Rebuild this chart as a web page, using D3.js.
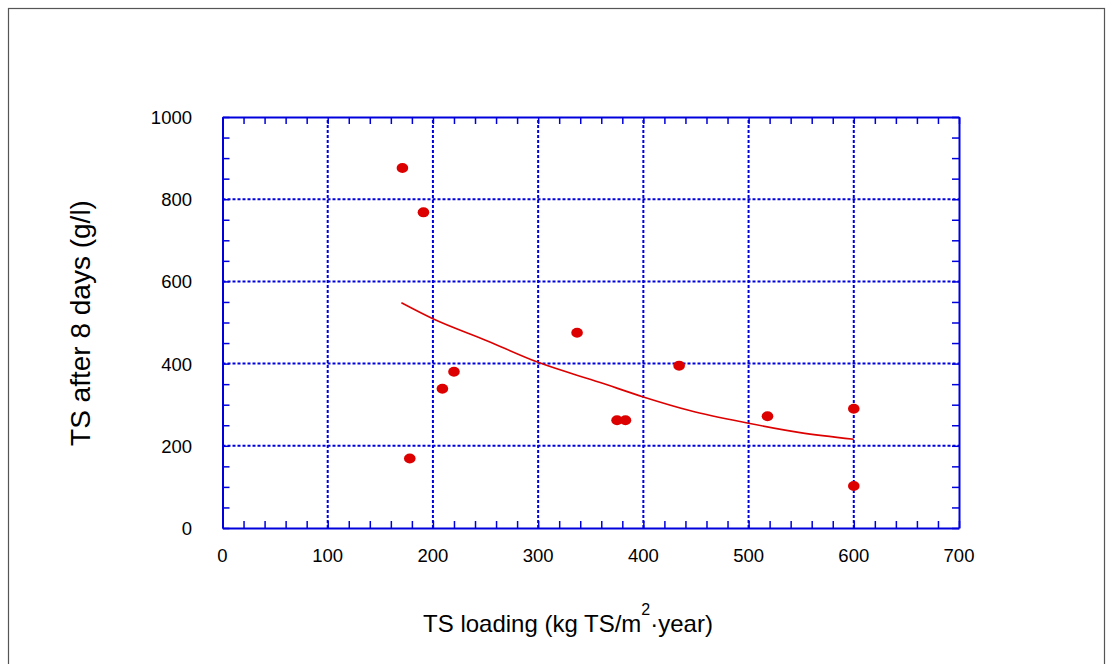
<!DOCTYPE html>
<html>
<head>
<meta charset="utf-8">
<script src="https://cdn.jsdelivr.net/npm/d3@7"></script>
<style>
  body { margin: 0; background: #fff; }
  text { font-family: "Liberation Sans", Arial, sans-serif; fill: #000; }
</style>
</head>
<body>
<svg id="chart" width="1113" height="664"></svg>
<script>
// measured points
var loading = [171, 191, 178, 209, 220, 337, 375, 383, 434, 518, 600, 600];
var tsAfter = [876, 768, 169, 339, 380, 475, 262, 262, 395, 272, 290, 102];

// fitted curve
var fitX = [170, 200, 250, 300, 359, 400, 444, 500, 549, 600];
var fitY = [548, 509, 457, 403, 354, 319, 286, 255, 232, 216];

var xTicks = [0, 100, 200, 300, 400, 500, 600, 700];
var yTicks = [0, 200, 400, 600, 800, 1000];

var svg = d3.select('#chart');
var blue = '#0000dd', red = '#dd0000';

var MARGIN = {left: 222.5, right: 959, top: 117, bottom: 528};

var x = d3.scaleLinear().domain([0, 700]).range([MARGIN.left, MARGIN.right]);
var y = d3.scaleLinear().domain([0, 1000]).range([MARGIN.bottom, MARGIN.top]);

// outer frame
svg.append('rect')
  .attr('x', 8.5).attr('y', 8.5)
  .attr('width', 1096).attr('height', 700)
  .attr('fill', 'none')
  .attr('stroke', '#555')
  .attr('stroke-width', 1.2);

// grid
var grid = svg.append('g');
grid.selectAll('.gx')
  .data(xTicks.slice(1, -1))
  .enter().append('line')
  .attr('x1', function(d) { return x(d); })
  .attr('x2', function(d) { return x(d); })
  .attr('y1', y(0)).attr('y2', y(1000))
  .attr('stroke', blue).attr('stroke-width', 2)
  .attr('stroke-dasharray', '3,2');
grid.selectAll('.gy')
  .data(yTicks.slice(1, -1))
  .enter().append('line')
  .attr('y1', function(d) { return y(d); })
  .attr('y2', function(d) { return y(d); })
  .attr('x1', x(0)).attr('x2', x(700))
  .attr('stroke', blue).attr('stroke-width', 2)
  .attr('stroke-dasharray', '3,2');

// axes with inward ticks on all four sides
function styleAxis(g) {
  g.select('.domain').attr('stroke', blue).attr('stroke-width', 2);
  g.selectAll('.tick line').attr('stroke', blue).attr('stroke-width', 1.5);
  g.selectAll('text').remove();
}
var xMinor = d3.range(0, 701, 20);
var yMinor = d3.range(0, 1001, 50);

svg.append('g')
  .attr('transform', 'translate(0,' + y(0) + ')')
  .call(d3.axisBottom(x).tickValues(xMinor).tickSizeInner(-7).tickSizeOuter(0))
  .call(styleAxis);
svg.append('g')
  .attr('transform', 'translate(0,' + y(1000) + ')')
  .call(d3.axisTop(x).tickValues(xMinor).tickSizeInner(-7).tickSizeOuter(0))
  .call(styleAxis);
svg.append('g')
  .attr('transform', 'translate(' + x(0) + ',0)')
  .call(d3.axisLeft(y).tickValues(yMinor).tickSizeInner(-7).tickSizeOuter(0))
  .call(styleAxis);
svg.append('g')
  .attr('transform', 'translate(' + x(700) + ',0)')
  .call(d3.axisRight(y).tickValues(yMinor).tickSizeInner(-7).tickSizeOuter(0))
  .call(styleAxis);

// tick labels
svg.selectAll('.xl')
  .data(xTicks)
  .enter().append('text')
  .attr('x', function(d) { return x(d); })
  .attr('y', 562)
  .attr('text-anchor', 'middle')
  .attr('font-size', 18.5)
  .text(function(d) { return d; });
svg.selectAll('.yl')
  .data(yTicks)
  .enter().append('text')
  .attr('x', 192)
  .attr('y', function(d) { return y(d) + 7; })
  .attr('text-anchor', 'end')
  .attr('font-size', 18.5)
  .text(function(d) { return d; });

// fitted line
var line = d3.line()
  .x(function(d) { return x(d[0]); })
  .y(function(d) { return y(d[1]); })
  .curve(d3.curveMonotoneX);
svg.append('path')
  .datum(d3.zip(fitX, fitY))
  .attr('d', line)
  .attr('fill', 'none')
  .attr('stroke', red)
  .attr('stroke-width', 1.6);

// points
svg.selectAll('.pt')
  .data(d3.zip(loading, tsAfter))
  .enter().append('ellipse')
  .attr('cx', function(d) { return x(d[0]); })
  .attr('cy', function(d) { return y(d[1]); })
  .attr('rx', 5.8).attr('ry', 5)
  .attr('fill', red);

// axis titles
var xt = svg.append('text')
  .attr('x', 568).attr('y', 632)
  .attr('text-anchor', 'middle')
  .attr('font-size', 24);
xt.append('tspan').text('TS loading (kg TS/m');
xt.append('tspan').attr('dy', -17).attr('font-size', 16).text('2');
xt.append('tspan').attr('dy', 17).text('\u00b7year)');

svg.append('text')
  .attr('transform', 'translate(90,323) rotate(-90)')
  .attr('text-anchor', 'middle')
  .attr('font-size', 28)
  .text('TS after 8 days (g/l)');
</script>
</body>
</html>
